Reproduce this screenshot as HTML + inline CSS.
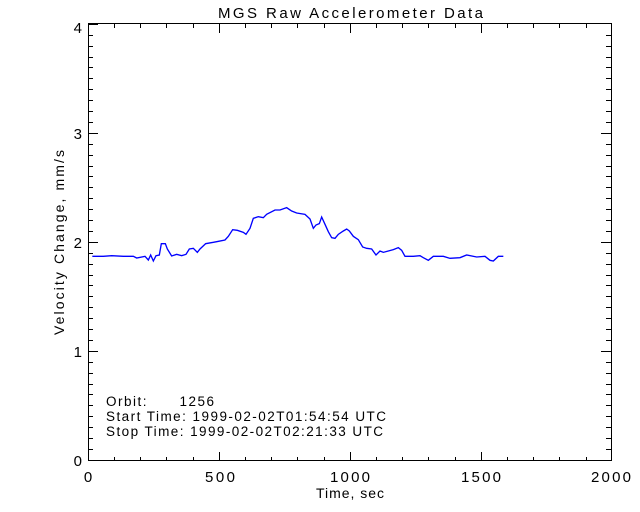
<!DOCTYPE html>
<html><head><style>body{margin:0;background:#fff}svg{display:block}</style></head><body>
<svg width="640" height="512" xmlns="http://www.w3.org/2000/svg" font-family="Liberation Sans, DejaVu Sans, sans-serif" fill="#000">
<rect width="640" height="512" fill="#fff"/>
<text x="218" y="18" font-size="15" textLength="265" lengthAdjust="spacing">MGS Raw Accelerometer Data</text>
<rect x="88.5" y="23.5" width="523" height="437" fill="none" stroke="#000" stroke-width="1"/>
<path stroke="#000" stroke-width="1" fill="none" d="
M88.5 461 v-9 M219.5 461 v-9 M350.5 461 v-9 M481.5 461 v-9 M611.5 461 v-9
M88.5 24 v9 M219.5 24 v9 M350.5 24 v9 M481.5 24 v9 M611.5 24 v9
M114.5 461v-4M140.5 461v-4M166.5 461v-4M193.5 461v-4M245.5 461v-4M271.5 461v-4M297.5 461v-4M324.5 461v-4M376.5 461v-4M402.5 461v-4M428.5 461v-4M455.5 461v-4M507.5 461v-4M533.5 461v-4M559.5 461v-4M586.5 461v-4
M114.5 24v4M140.5 24v4M166.5 24v4M193.5 24v4M245.5 24v4M271.5 24v4M297.5 24v4M324.5 24v4M376.5 24v4M402.5 24v4M428.5 24v4M455.5 24v4M507.5 24v4M533.5 24v4M559.5 24v4M586.5 24v4
M88 460.5h10M88 351.5h10M88 242.5h10M88 133.5h10M88 24.5h10
M611 460.5h-10M611 351.5h-10M611 242.5h-10M611 133.5h-10
"/>
<path stroke="#000" stroke-width="1" fill="none" d="
M88 449.5h5M88 438.5h5M88 427.5h5M88 416.5h5M88 405.5h5M88 394.5h5M88 384.5h5M88 373.5h5M88 362.5h5
M88 340.5h5M88 329.5h5M88 318.5h5M88 307.5h5M88 296.5h5M88 285.5h5M88 275.5h5M88 264.5h5M88 253.5h5
M88 231.5h5M88 220.5h5M88 209.5h5M88 198.5h5M88 187.5h5M88 176.5h5M88 166.5h5M88 155.5h5M88 144.5h5
M88 122.5h5M88 111.5h5M88 100.5h5M88 89.5h5M88 78.5h5M88 67.5h5M88 57.5h5M88 46.5h5M88 35.5h5
M611 449.5h-5M611 438.5h-5M611 427.5h-5M611 416.5h-5M611 405.5h-5M611 394.5h-5M611 384.5h-5M611 373.5h-5M611 362.5h-5
M611 340.5h-5M611 329.5h-5M611 318.5h-5M611 307.5h-5M611 296.5h-5M611 285.5h-5M611 275.5h-5M611 264.5h-5M611 253.5h-5
M611 231.5h-5M611 220.5h-5M611 209.5h-5M611 198.5h-5M611 187.5h-5M611 176.5h-5M611 166.5h-5M611 155.5h-5M611 144.5h-5
M611 122.5h-5M611 111.5h-5M611 100.5h-5M611 89.5h-5M611 78.5h-5M611 67.5h-5M611 57.5h-5M611 46.5h-5M611 35.5h-5
"/>
<g font-size="15" text-anchor="middle">
<text x="88" y="482">0</text><text x="220" y="482" textLength="30">500</text><text x="350" y="482" textLength="40">1000</text><text x="481" y="482" textLength="40">1500</text><text x="611" y="482" textLength="40">2000</text>
<text x="316" y="498" font-size="14" textLength="68" text-anchor="start">Time, sec</text>
</g>
<g font-size="15" text-anchor="end">
<text x="82" y="466">0</text><text x="82" y="357">1</text><text x="82" y="248">2</text><text x="82" y="139">3</text><text x="82" y="33">4</text>
</g>
<text transform="translate(64,335) rotate(-90)" font-size="14" textLength="185" lengthAdjust="spacing">Velocity Change, mm/s</text>
<g font-size="13.5">
<text x="106" y="406" textLength="108" lengthAdjust="spacing">Orbit:&#160;&#160;&#160;&#160;&#160;&#160;1256</text>
<text x="106" y="421" textLength="280" lengthAdjust="spacing">Start Time: 1999-02-02T01:54:54 UTC</text>
<text x="106" y="436" textLength="277" lengthAdjust="spacing">Stop Time: 1999-02-02T02:21:33 UTC</text>
</g>
<g transform="translate(80,195) scale(0.33333)">
<polyline fill="none" stroke="#0000ff" stroke-width="4" points="37,184 70,184 95,182 130,184 160,184 170,189 195,184 205,195 212,180 220,198 228,182 238,180 244,146 256,146 262,162 275,183 290,178 305,182 318,178 328,162 340,160 352,172 360,162 377,146 400,142 410,140 435,135 445,124 458,104 472,106 490,112 498,118 510,100 520,70 535,65 550,68 560,58 585,45 600,45 620,38 635,48 650,54 675,58 690,72 700,100 708,90 718,86 725,66 735,88 745,110 755,128 765,130 775,118 790,108 800,102 808,108 820,124 835,134 848,156 860,160 875,162 888,180 900,168 910,172 925,168 940,164 955,158 965,166 975,184 1000,184 1020,182 1030,188 1045,196 1060,184 1090,184 1110,190 1140,188 1160,180 1190,186 1215,184 1230,196 1240,198 1255,184 1270,184"/>
</g>
</svg>
</body></html>
